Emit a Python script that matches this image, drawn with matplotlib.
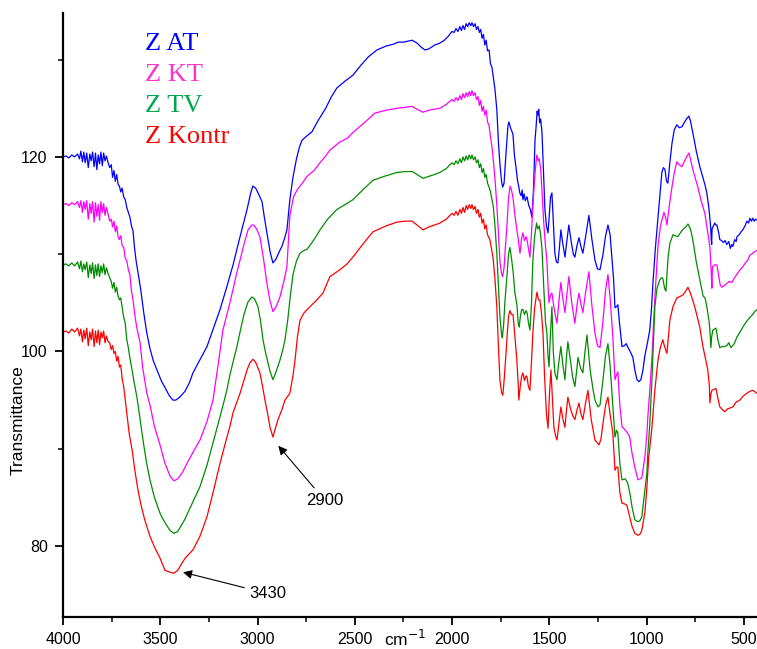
import matplotlib
matplotlib.use("Agg")
import matplotlib.pyplot as plt

# FTIR spectra: (wavenumber cm-1, transmittance)
at_pts = [
    (4000, 120.0), (3985, 120.1), (3970, 119.9), (3955, 120.2), (3940, 120.0), (3925, 120.3),
    (3915, 119.8), (3908, 120.6), (3900, 119.5), (3893, 120.5), (3886, 119.4), (3878, 120.4),
    (3870, 118.9), (3862, 120.3), (3855, 119.6), (3848, 120.5), (3840, 119.0), (3833, 120.4),
    (3826, 118.7), (3819, 120.2), (3812, 119.3), (3805, 120.5), (3798, 119.1), (3791, 120.4),
    (3784, 119.6), (3777, 120.1), (3768, 119.4), (3760, 118.9), (3752, 119.2), (3745, 117.9),
    (3738, 118.6), (3731, 117.5), (3724, 118.2), (3717, 117.2), (3710, 117.0), (3703, 116.4),
    (3696, 116.8), (3688, 115.9), (3680, 115.6), (3672, 114.8), (3664, 114.3), (3656, 113.8),
    (3648, 112.9), (3640, 112.4), (3632, 110.6), (3624, 109.3), (3612, 107.8), (3600, 106.3),
    (3585, 104.0), (3570, 102.0), (3553, 100.3), (3535, 99.0), (3517, 98.1), (3495, 97.0),
    (3476, 96.3), (3455, 95.5), (3435, 95.0), (3420, 95.0), (3400, 95.3), (3373, 95.9),
    (3350, 96.8), (3332, 97.8), (3300, 99.0), (3260, 100.5), (3230, 102.2), (3193, 104.3),
    (3160, 106.5), (3126, 108.9), (3090, 111.8), (3054, 114.6), (3035, 116.3), (3024, 117.0),
    (3010, 116.8), (2995, 116.2), (2977, 115.4), (2965, 113.8), (2952, 112.2), (2935, 110.2),
    (2921, 109.1), (2905, 109.5), (2890, 110.2), (2875, 110.8), (2860, 111.7), (2849, 112.5),
    (2834, 115.6), (2818, 117.9), (2800, 119.8), (2785, 121.0), (2772, 121.7), (2750, 122.1),
    (2720, 122.6), (2690, 123.7), (2650, 125.0), (2620, 126.2), (2592, 127.1), (2550, 127.8),
    (2510, 128.4), (2470, 129.4), (2430, 130.3), (2386, 131.0), (2340, 131.4), (2300, 131.6),
    (2278, 131.8), (2250, 131.8), (2206, 132.0), (2180, 131.7), (2160, 131.3), (2140, 131.0),
    (2120, 131.1), (2090, 131.5), (2063, 131.7), (2040, 132.0), (2020, 132.4), (2001, 132.9),
    (1990, 132.8), (1980, 133.2), (1970, 132.9), (1960, 133.4), (1952, 133.0), (1944, 133.5),
    (1936, 133.1), (1928, 133.7), (1920, 133.4), (1912, 133.8), (1904, 133.5), (1898, 133.8),
    (1890, 133.4), (1882, 133.7), (1875, 133.1), (1867, 133.4), (1860, 132.8), (1853, 133.1),
    (1846, 132.2), (1839, 132.6), (1832, 131.5), (1825, 132.0), (1818, 130.9), (1810, 131.0),
    (1803, 129.6), (1795, 129.2), (1788, 128.2), (1780, 127.0), (1770, 124.8), (1762, 121.5),
    (1754, 119.2), (1746, 117.5), (1740, 116.9), (1733, 117.3), (1726, 119.5), (1718, 121.8),
    (1713, 123.2), (1708, 123.6), (1700, 123.0), (1692, 122.6), (1687, 122.3), (1680, 120.2),
    (1672, 119.0), (1664, 117.6), (1657, 116.9), (1652, 116.3), (1645, 116.0), (1640, 116.6),
    (1636, 115.6), (1630, 116.2), (1624, 115.5), (1615, 115.9), (1606, 115.0), (1598, 114.6),
    (1590, 113.8), (1582, 116.5), (1574, 121.7), (1568, 123.2), (1563, 124.7), (1559, 124.3),
    (1555, 124.9), (1550, 123.5), (1545, 123.9), (1538, 122.5), (1531, 118.8), (1523, 114.6),
    (1515, 112.9), (1507, 112.2), (1500, 114.2), (1494, 115.9), (1487, 116.3), (1480, 113.5),
    (1472, 110.1), (1464, 109.2), (1456, 109.1), (1448, 110.8), (1441, 112.5), (1432, 111.2),
    (1420, 109.7), (1410, 111.4), (1400, 113.0), (1388, 111.3), (1377, 110.0), (1369, 109.7),
    (1358, 110.9), (1348, 111.7), (1338, 110.8), (1328, 110.1), (1313, 111.9), (1297, 114.0),
    (1282, 111.6), (1266, 109.4), (1253, 108.5), (1240, 108.4), (1225, 109.9), (1212, 111.8),
    (1199, 113.0), (1188, 112.0), (1179, 109.7), (1170, 107.4), (1163, 104.5), (1155, 104.6),
    (1148, 104.8), (1140, 103.0), (1127, 100.5), (1115, 100.6), (1105, 100.8), (1096, 100.4),
    (1085, 100.0), (1071, 99.4), (1060, 98.0), (1050, 97.1), (1040, 96.9), (1030, 97.1),
    (1020, 98.0), (1009, 99.6), (995, 101.0), (984, 102.2), (975, 104.5), (968, 107.0),
    (955, 110.7), (940, 114.2), (930, 116.6), (922, 118.4), (914, 118.9), (906, 118.7),
    (898, 117.5), (891, 117.3), (882, 119.2), (870, 121.4), (858, 122.8), (845, 123.3),
    (832, 123.0), (819, 123.1), (805, 123.6), (795, 123.9), (783, 124.2), (775, 123.7),
    (763, 122.5), (745, 120.6), (727, 119.0), (710, 117.8), (700, 117.1), (691, 116.3),
    (680, 114.7), (672, 113.0), (668, 111.5), (666, 111.0), (664, 112.6), (660, 112.8),
    (650, 113.2), (645, 113.0), (639, 113.0), (630, 112.2), (624, 111.5), (615, 111.4),
    (606, 111.2), (597, 111.4), (588, 111.0), (578, 111.3), (570, 110.6), (563, 111.0),
    (557, 110.8), (548, 111.5), (540, 111.3), (536, 111.8), (525, 112.0), (515, 112.3),
    (506, 112.5), (495, 112.9), (485, 113.4), (476, 113.2), (470, 113.7), (462, 113.4),
    (455, 113.7), (448, 113.4), (440, 113.6), (433, 113.5),
]

kt_pts = [
    (4000, 115.1), (3985, 115.2), (3970, 115.0), (3955, 115.3), (3940, 115.1), (3925, 115.4),
    (3915, 114.8), (3908, 115.5), (3900, 114.3), (3893, 115.4), (3886, 114.6), (3878, 115.5),
    (3870, 113.6), (3862, 115.2), (3855, 114.2), (3848, 115.4), (3840, 113.3), (3833, 115.3),
    (3826, 113.9), (3819, 115.1), (3812, 113.5), (3805, 115.4), (3798, 114.3), (3791, 115.2),
    (3784, 114.0), (3777, 114.8), (3768, 114.1), (3760, 113.4), (3752, 113.6), (3745, 112.8),
    (3738, 113.4), (3731, 112.3), (3724, 112.9), (3717, 111.8), (3710, 111.5), (3703, 111.9),
    (3696, 110.9), (3688, 110.7), (3680, 109.6), (3672, 109.3), (3664, 108.4), (3656, 107.9),
    (3648, 106.2), (3640, 105.3), (3630, 103.6), (3620, 102.4), (3604, 100.9), (3590, 98.3),
    (3570, 95.8), (3553, 94.5), (3530, 92.3), (3500, 90.3), (3476, 88.5), (3450, 87.2),
    (3430, 86.7), (3410, 86.9), (3385, 87.6), (3360, 88.6), (3330, 89.7), (3296, 90.9),
    (3260, 92.8), (3229, 95.0), (3200, 99.0), (3178, 102.2), (3142, 105.0), (3110, 107.8),
    (3090, 109.4), (3070, 111.0), (3049, 112.5), (3030, 113.0), (3020, 113.0), (3005, 112.6),
    (2988, 111.8), (2970, 109.6), (2952, 107.0), (2936, 105.2), (2921, 104.1), (2905, 104.6),
    (2885, 105.6), (2865, 107.2), (2849, 108.7), (2840, 111.8), (2834, 114.0), (2815, 115.9),
    (2797, 116.6), (2770, 117.3), (2746, 118.0), (2710, 118.6), (2679, 119.4), (2650, 120.1),
    (2628, 120.7), (2580, 121.5), (2540, 121.9), (2510, 122.5), (2470, 123.2), (2430, 123.9),
    (2397, 124.5), (2340, 124.8), (2284, 125.0), (2240, 125.1), (2206, 125.2), (2180, 124.9),
    (2150, 124.6), (2120, 124.8), (2090, 124.9), (2063, 125.0), (2030, 125.4), (2001, 125.9),
    (1990, 125.7), (1980, 126.1), (1970, 125.8), (1960, 126.3), (1952, 125.9), (1944, 126.5),
    (1936, 126.1), (1928, 126.6), (1920, 126.2), (1912, 126.7), (1904, 126.3), (1898, 126.8),
    (1890, 126.3), (1882, 126.6), (1875, 125.9), (1867, 126.2), (1860, 125.3), (1853, 125.8),
    (1846, 124.7), (1839, 125.2), (1832, 124.3), (1825, 124.8), (1818, 123.6), (1810, 123.2),
    (1803, 122.1), (1795, 121.0), (1788, 119.6), (1780, 117.8), (1770, 115.0), (1762, 112.0),
    (1754, 109.2), (1746, 108.0), (1740, 107.7), (1733, 108.6), (1726, 110.8), (1718, 113.0),
    (1710, 115.8), (1702, 117.0), (1695, 116.6), (1687, 115.8), (1680, 114.5), (1672, 113.2),
    (1662, 111.8), (1651, 110.1), (1643, 111.6), (1636, 112.2), (1628, 111.4), (1620, 111.8),
    (1615, 111.5), (1608, 110.6), (1600, 109.7), (1592, 112.2), (1585, 115.0), (1576, 117.8),
    (1568, 119.6), (1564, 120.2), (1558, 119.6), (1552, 119.8), (1545, 118.8), (1538, 116.5),
    (1530, 113.5), (1520, 110.8), (1513, 109.4), (1507, 106.8), (1502, 105.0), (1494, 105.8),
    (1487, 106.0), (1480, 105.0), (1472, 104.0), (1461, 102.9), (1451, 105.2), (1441, 107.1),
    (1430, 105.3), (1420, 104.0), (1410, 105.8), (1400, 107.7), (1385, 105.0), (1369, 102.9),
    (1358, 104.8), (1348, 106.0), (1338, 104.9), (1328, 104.0), (1313, 106.2), (1297, 108.2),
    (1282, 104.8), (1266, 101.9), (1253, 100.6), (1240, 100.4), (1225, 103.0), (1212, 106.2),
    (1199, 107.9), (1188, 105.5), (1174, 101.5), (1163, 97.1), (1155, 97.6), (1148, 97.9),
    (1138, 94.5), (1127, 92.3), (1110, 91.9), (1098, 91.6), (1087, 91.2), (1075, 89.5),
    (1061, 88.1), (1045, 86.8), (1035, 86.9), (1025, 87.0), (1009, 89.2), (999, 91.5),
    (994, 93.3), (984, 96.0), (973, 99.4), (958, 105.5), (942, 110.8), (930, 112.8),
    (922, 113.5), (911, 114.3), (903, 113.8), (896, 113.0), (885, 114.8), (870, 116.9),
    (858, 118.4), (845, 119.5), (832, 119.2), (819, 119.0), (805, 119.6), (795, 120.0),
    (783, 120.4), (775, 119.8), (763, 118.7), (750, 117.8), (737, 116.9), (720, 115.5),
    (701, 114.2), (688, 112.5), (675, 110.7), (668, 108.0), (665, 106.5), (662, 108.7),
    (652, 108.9), (639, 108.9), (630, 107.8), (622, 106.8), (613, 106.6), (600, 106.8),
    (588, 107.0), (575, 107.2), (562, 107.1), (548, 107.6), (531, 108.1), (520, 108.4),
    (506, 108.7), (490, 109.2), (480, 109.4), (470, 109.9), (460, 110.0), (450, 110.2),
    (440, 110.3), (433, 110.4),
]

tv_pts = [
    (4000, 108.9), (3985, 109.0), (3970, 108.8), (3955, 109.1), (3940, 108.8), (3925, 109.2),
    (3915, 108.5), (3908, 109.3), (3900, 108.2), (3893, 109.0), (3886, 108.4), (3878, 109.2),
    (3870, 107.6), (3862, 108.9), (3855, 108.0), (3848, 109.1), (3840, 107.5), (3833, 108.9),
    (3826, 107.8), (3819, 109.0), (3812, 107.7), (3805, 108.8), (3798, 108.1), (3791, 109.0),
    (3784, 107.9), (3777, 108.6), (3768, 108.0), (3760, 107.6), (3752, 107.2), (3745, 106.5),
    (3738, 107.1), (3731, 106.1), (3724, 106.6), (3717, 105.7), (3710, 105.3), (3703, 105.5),
    (3696, 104.6), (3688, 103.5), (3680, 102.9), (3672, 101.2), (3664, 100.4), (3656, 99.3),
    (3645, 98.1), (3635, 96.9), (3620, 95.3), (3600, 92.5), (3585, 90.4), (3570, 88.5),
    (3553, 86.8), (3530, 85.0), (3500, 83.3), (3476, 82.4), (3450, 81.6), (3430, 81.3),
    (3410, 81.5), (3375, 82.7), (3340, 84.2), (3296, 86.1), (3260, 88.3), (3229, 90.6),
    (3190, 93.5), (3158, 96.0), (3142, 97.6), (3106, 100.5), (3090, 102.0), (3070, 103.8),
    (3049, 105.1), (3029, 105.6), (3015, 105.4), (2998, 104.6), (2985, 103.2), (2972, 101.2),
    (2958, 99.8), (2946, 98.8), (2935, 97.9), (2921, 97.1), (2905, 97.9), (2885, 99.1),
    (2870, 100.2), (2859, 101.2), (2845, 103.2), (2834, 105.3), (2818, 107.9), (2800, 109.3),
    (2782, 110.1), (2760, 110.4), (2746, 110.5), (2720, 111.2), (2700, 111.8), (2679, 112.5),
    (2640, 113.6), (2592, 114.6), (2550, 115.1), (2510, 115.6), (2460, 116.6), (2407, 117.6),
    (2350, 118.0), (2284, 118.4), (2240, 118.5), (2206, 118.5), (2180, 118.2), (2150, 117.8),
    (2120, 118.0), (2090, 118.2), (2063, 118.4), (2030, 118.8), (2001, 119.4), (1990, 119.2),
    (1980, 119.6), (1970, 119.3), (1960, 119.8), (1952, 119.4), (1944, 120.0), (1936, 119.6),
    (1928, 120.1), (1920, 119.7), (1912, 120.2), (1904, 119.8), (1898, 120.2), (1890, 119.7),
    (1882, 120.0), (1875, 119.4), (1867, 119.7), (1860, 118.9), (1853, 119.3), (1846, 118.4),
    (1839, 118.8), (1832, 117.9), (1825, 118.2), (1818, 117.3), (1810, 116.9), (1803, 116.4),
    (1795, 115.6), (1788, 114.8), (1780, 113.0), (1770, 110.0), (1762, 106.8), (1754, 103.5),
    (1746, 101.8), (1742, 101.4), (1735, 102.8), (1729, 105.0), (1718, 107.8), (1710, 110.0),
    (1703, 110.7), (1695, 109.6), (1687, 108.3), (1677, 106.0), (1667, 104.8), (1660, 102.8),
    (1655, 102.5), (1650, 103.5), (1643, 104.3), (1636, 104.3), (1628, 103.8), (1620, 104.2),
    (1615, 104.0), (1608, 103.0), (1600, 102.2), (1592, 105.0), (1585, 109.4), (1576, 111.8),
    (1566, 113.2), (1560, 112.6), (1552, 112.9), (1545, 112.0), (1538, 110.5), (1530, 107.0),
    (1520, 103.0), (1513, 101.9), (1507, 99.5), (1502, 98.4), (1494, 102.0), (1487, 104.6),
    (1480, 100.0), (1472, 97.8), (1461, 97.1), (1451, 99.0), (1441, 100.5), (1430, 98.5),
    (1420, 97.1), (1412, 99.5), (1405, 101.0), (1390, 98.8), (1380, 97.3), (1369, 96.4),
    (1360, 98.0), (1353, 99.4), (1340, 98.3), (1328, 97.8), (1318, 99.8), (1307, 101.7),
    (1290, 98.0), (1275, 96.0), (1266, 95.0), (1250, 94.3), (1240, 94.5), (1225, 97.0),
    (1212, 99.5), (1199, 100.8), (1188, 98.5), (1174, 94.5), (1163, 91.2), (1155, 91.9),
    (1148, 91.6), (1138, 88.5), (1127, 86.8), (1110, 86.9), (1098, 86.5), (1087, 85.5),
    (1075, 84.0), (1061, 82.7), (1045, 82.5), (1035, 82.6), (1025, 83.0), (1009, 85.8),
    (999, 87.5), (994, 89.6), (984, 92.5), (973, 97.1), (958, 104.6), (947, 106.5),
    (932, 107.4), (922, 107.6), (917, 107.5), (908, 106.5), (901, 106.2), (890, 109.7),
    (881, 111.1), (865, 112.0), (840, 111.8), (820, 112.4), (805, 112.7), (795, 112.9),
    (788, 113.1), (775, 112.6), (763, 111.5), (745, 109.2), (727, 107.4), (710, 105.7),
    (700, 105.5), (691, 104.6), (680, 103.2), (675, 102.2), (670, 100.4), (666, 101.5),
    (660, 102.2), (644, 102.4), (634, 101.2), (624, 100.4), (612, 100.5), (603, 100.5),
    (588, 100.6), (578, 100.9), (567, 100.4), (550, 100.8), (536, 101.5), (520, 102.0),
    (506, 102.5), (490, 103.0), (470, 103.5), (455, 103.8), (445, 104.1), (433, 104.3),
]

kontr_pts = [
    (4000, 102.0), (3985, 102.1), (3970, 101.9), (3955, 102.3), (3940, 102.0), (3925, 102.4),
    (3915, 101.6), (3908, 102.3), (3900, 101.0), (3893, 102.2), (3886, 101.3), (3878, 102.4),
    (3870, 100.6), (3862, 102.0), (3855, 101.2), (3848, 102.3), (3840, 100.5), (3833, 102.1),
    (3826, 100.9), (3819, 102.2), (3812, 100.7), (3805, 102.0), (3798, 101.4), (3791, 102.1),
    (3784, 100.9), (3777, 101.6), (3768, 101.0), (3760, 100.9), (3752, 100.2), (3745, 100.6),
    (3738, 99.8), (3731, 100.0), (3724, 99.0), (3717, 99.5), (3710, 98.4), (3703, 98.6),
    (3696, 97.2), (3688, 96.4), (3680, 95.0), (3672, 93.7), (3660, 91.6), (3645, 89.9),
    (3630, 87.7), (3615, 85.8), (3600, 84.3), (3580, 82.7), (3553, 81.0), (3530, 79.9),
    (3500, 78.7), (3476, 77.5), (3450, 77.3), (3430, 77.2), (3410, 77.5), (3390, 78.2),
    (3370, 78.8), (3332, 79.6), (3296, 81.0), (3260, 83.0), (3225, 85.8), (3193, 88.5),
    (3160, 91.0), (3142, 92.3), (3126, 93.7), (3090, 95.7), (3054, 98.1), (3040, 98.8),
    (3024, 99.2), (3010, 98.9), (2988, 97.8), (2975, 96.5), (2962, 95.0), (2948, 93.6),
    (2936, 92.2), (2921, 91.2), (2910, 92.0), (2895, 93.0), (2875, 94.0), (2859, 95.0),
    (2845, 95.4), (2834, 95.7), (2818, 97.5), (2808, 99.0), (2795, 101.5), (2782, 103.2),
    (2760, 104.0), (2731, 104.6), (2700, 105.2), (2664, 106.0), (2628, 107.7), (2577, 108.4),
    (2540, 109.0), (2510, 109.7), (2460, 111.0), (2407, 112.3), (2340, 112.9), (2284, 113.3),
    (2240, 113.4), (2206, 113.4), (2180, 113.0), (2150, 112.5), (2120, 112.8), (2090, 113.0),
    (2063, 113.2), (2030, 113.6), (2001, 114.2), (1990, 114.0), (1980, 114.4), (1970, 114.0),
    (1960, 114.6), (1952, 114.2), (1944, 114.8), (1936, 114.3), (1928, 115.0), (1920, 114.6),
    (1912, 115.1), (1904, 114.7), (1898, 115.1), (1890, 114.6), (1882, 114.9), (1875, 114.2),
    (1867, 114.6), (1860, 113.8), (1853, 114.2), (1846, 113.2), (1839, 113.6), (1832, 112.6),
    (1825, 113.0), (1818, 112.0), (1806, 111.5), (1798, 110.6), (1790, 109.7), (1780, 107.5),
    (1770, 104.5), (1762, 100.5), (1754, 97.0), (1746, 95.8), (1739, 95.5), (1731, 97.5),
    (1723, 99.8), (1716, 102.0), (1710, 103.6), (1703, 104.2), (1695, 103.8), (1687, 103.8),
    (1677, 101.5), (1667, 99.0), (1660, 96.5), (1657, 95.0), (1651, 96.2), (1643, 97.4),
    (1636, 97.8), (1628, 97.0), (1620, 97.5), (1615, 97.4), (1608, 96.4), (1600, 96.0),
    (1592, 99.0), (1585, 101.9), (1576, 104.5), (1564, 106.1), (1556, 105.3), (1549, 105.3),
    (1541, 104.0), (1533, 101.9), (1525, 97.5), (1515, 93.5), (1507, 92.1), (1500, 95.5),
    (1492, 98.1), (1484, 95.0), (1477, 92.2), (1468, 91.3), (1461, 90.9), (1451, 92.6),
    (1441, 94.3), (1430, 93.0), (1420, 92.2), (1412, 94.0), (1405, 95.3), (1390, 94.0),
    (1380, 93.4), (1369, 93.0), (1358, 94.0), (1348, 94.7), (1338, 93.6), (1328, 93.0),
    (1315, 94.6), (1302, 96.0), (1285, 93.0), (1266, 90.9), (1245, 90.4), (1235, 91.0),
    (1222, 93.0), (1210, 94.6), (1199, 95.3), (1188, 93.5), (1174, 91.6), (1163, 87.8),
    (1155, 88.1), (1148, 88.1), (1138, 85.5), (1127, 84.4), (1110, 84.3), (1102, 84.2),
    (1087, 83.0), (1075, 82.0), (1061, 81.3), (1045, 81.1), (1035, 81.2), (1025, 81.6),
    (1009, 83.5), (999, 86.0), (990, 89.0), (973, 92.2), (958, 96.0), (942, 99.1),
    (930, 100.4), (917, 101.2), (908, 100.5), (896, 99.8), (881, 103.2), (865, 104.6),
    (845, 105.5), (814, 105.8), (800, 106.2), (788, 106.6), (775, 106.0), (753, 104.6),
    (727, 102.5), (711, 100.5), (695, 99.0), (686, 98.1), (678, 96.5), (675, 94.7),
    (670, 95.6), (665, 96.0), (655, 96.1), (644, 96.2), (634, 95.2), (624, 94.3),
    (610, 94.0), (598, 93.8), (585, 94.1), (570, 94.2), (557, 94.3), (540, 94.8),
    (521, 95.0), (505, 95.4), (485, 95.7), (470, 95.9), (454, 96.0), (440, 95.8),
    (433, 95.7),
]

series_names = ["Z AT", "Z KT", "Z TV", "Z Kontr"]
line_colors = ["#0000FF", "#FF00FF", "#008C00", "#FF0000"]
label_colors = ["#0000FF", "#FF33CC", "#00A550", "#FF0000"]

fig = plt.figure(figsize=(7.57, 6.49), dpi=100)
ax = fig.add_axes([0.0832, 0.0493, 0.9168, 0.9307])

for pts, c in zip([at_pts, kt_pts, tv_pts, kontr_pts], line_colors):
    x, y = zip(*pts)
    ax.plot(x, y, color=c, lw=0.9)

ax.set_xlim(4000, 433)
ax.set_ylim(72.7, 134.8)

ax.set_xticks([4000, 3500, 3000, 2500, 2000, 1500, 1000, 500])
ax.set_xticks([3750, 3250, 2750, 2250, 1750, 1250, 750], minor=True)
ax.set_yticks([80, 100, 120])
ax.set_yticks([90, 110, 130], minor=True)

for s in ["top", "right"]:
    ax.spines[s].set_visible(False)
for s in ["left", "bottom"]:
    ax.spines[s].set_linewidth(1.6)

ax.tick_params(which="major", direction="out", length=6, width=1.3,
               labelsize=11.5, pad=5)
ax.tick_params(which="minor", direction="out", length=3.5, width=1.1)
for lab in ax.get_xticklabels() + ax.get_yticklabels():
    lab.set_fontfamily("Liberation Sans")

ax.text(0.493, -0.036, "cm$^{-1}$", transform=ax.transAxes, ha="center", va="center",
        fontsize=12.5, fontfamily="Liberation Sans")
fig.text(18 / 757, 1 - 420 / 649, "Transmittance", rotation=90, ha="center", va="center",
         fontsize=12.5, fontfamily="Liberation Sans")

# sample names, top left
for i, (name, c) in enumerate(zip(series_names, label_colors)):
    fig.text(145 / 757, 1 - (44 + i * 31) / 649, name, color=c, fontsize=19,
             fontfamily="Liberation Serif", ha="left", va="center")

arrow = dict(arrowstyle="-|>", color="black", lw=0.8, mutation_scale=13, shrinkA=2, shrinkB=0)
ax.annotate("3430", xy=(3383, 77.3), xytext=(2945, 75.1), ha="center", va="center",
            fontsize=12, fontfamily="Liberation Sans", arrowprops=arrow)
ax.annotate("2900", xy=(2893, 90.3), xytext=(2655, 84.7), ha="center", va="center",
            fontsize=12, fontfamily="Liberation Sans", arrowprops=arrow)

fig.savefig("out.png", dpi=100)
